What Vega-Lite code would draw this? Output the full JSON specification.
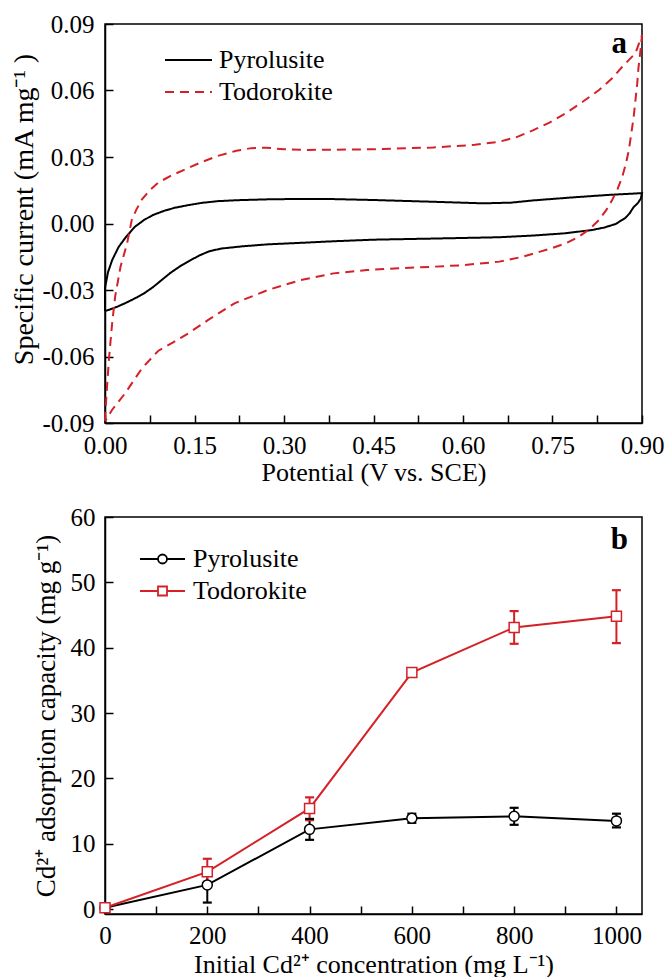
{
  "$schema": "https://vega.github.io/schema/vega-lite/v6.json",
  "background": "white",
  "padding": {"left": 10, "top": 11, "right": 2, "bottom": 1},
  "spacing": 18,
  "config": {
    "font": "Liberation Serif",
    "view": {"stroke": "black", "strokeWidth": 1.5},
    "axis": {
      "labelFont": "Liberation Serif", "titleFont": "Liberation Serif",
      "labelFontSize": 25, "titleFontSize": 26, "labelColor": "black", "titleColor": "black",
      "titleFontWeight": "normal", "domainColor": "black", "domainWidth": 1.5,
      "tickColor": "black", "tickWidth": 1.5, "tickSize": -8, "grid": false,
      "labelOverlap": false, "labelFlush": false
    },
    "legend": {"labelFont": "Liberation Serif", "labelColor": "black"}
  },
  "resolve": {"scale": {"color": "independent", "strokeDash": "independent"}, "legend": {"color": "independent", "strokeDash": "independent"}},
  "vconcat": [
    {
      "width": 537, "height": 399,
      "layer": [
        {
          "data": {"values": [
            {"series":"Pyrolusite","potential":0,"current":-0.0395},
            {"series":"Pyrolusite","potential":0,"current":-0.029},
            {"series":"Pyrolusite","potential":0.005,"current":-0.022},
            {"series":"Pyrolusite","potential":0.012,"current":-0.0165},
            {"series":"Pyrolusite","potential":0.023,"current":-0.0105},
            {"series":"Pyrolusite","potential":0.034,"current":-0.0065},
            {"series":"Pyrolusite","potential":0.05,"current":-0.0015},
            {"series":"Pyrolusite","potential":0.065,"current":0.0015},
            {"series":"Pyrolusite","potential":0.08,"current":0.0038},
            {"series":"Pyrolusite","potential":0.1,"current":0.0058},
            {"series":"Pyrolusite","potential":0.117,"current":0.0071},
            {"series":"Pyrolusite","potential":0.14,"current":0.0083},
            {"series":"Pyrolusite","potential":0.162,"current":0.0093},
            {"series":"Pyrolusite","potential":0.19,"current":0.0101},
            {"series":"Pyrolusite","potential":0.22,"current":0.0105},
            {"series":"Pyrolusite","potential":0.273,"current":0.0109},
            {"series":"Pyrolusite","potential":0.33,"current":0.0111},
            {"series":"Pyrolusite","potential":0.384,"current":0.011},
            {"series":"Pyrolusite","potential":0.45,"current":0.0106},
            {"series":"Pyrolusite","potential":0.55,"current":0.0098},
            {"series":"Pyrolusite","potential":0.633,"current":0.0091},
            {"series":"Pyrolusite","potential":0.68,"current":0.0094},
            {"series":"Pyrolusite","potential":0.717,"current":0.0104},
            {"series":"Pyrolusite","potential":0.78,"current":0.0117},
            {"series":"Pyrolusite","potential":0.844,"current":0.0129},
            {"series":"Pyrolusite","potential":0.893,"current":0.0136},
            {"series":"Pyrolusite","potential":0.9,"current":0.0137},
            {"series":"Pyrolusite","potential":0.898,"current":0.0112},
            {"series":"Pyrolusite","potential":0.893,"current":0.0092},
            {"series":"Pyrolusite","potential":0.886,"current":0.0074},
            {"series":"Pyrolusite","potential":0.879,"current":0.0045},
            {"series":"Pyrolusite","potential":0.872,"current":0.0025},
            {"series":"Pyrolusite","potential":0.856,"current":-0.0002},
            {"series":"Pyrolusite","potential":0.837,"current":-0.0018},
            {"series":"Pyrolusite","potential":0.817,"current":-0.0029},
            {"series":"Pyrolusite","potential":0.772,"current":-0.0044},
            {"series":"Pyrolusite","potential":0.72,"current":-0.0054},
            {"series":"Pyrolusite","potential":0.661,"current":-0.0062},
            {"series":"Pyrolusite","potential":0.55,"current":-0.0068},
            {"series":"Pyrolusite","potential":0.45,"current":-0.0073},
            {"series":"Pyrolusite","potential":0.384,"current":-0.008},
            {"series":"Pyrolusite","potential":0.33,"current":-0.0087},
            {"series":"Pyrolusite","potential":0.273,"current":-0.0094},
            {"series":"Pyrolusite","potential":0.23,"current":-0.0103},
            {"series":"Pyrolusite","potential":0.195,"current":-0.0113},
            {"series":"Pyrolusite","potential":0.175,"current":-0.0125},
            {"series":"Pyrolusite","potential":0.16,"current":-0.0142},
            {"series":"Pyrolusite","potential":0.145,"current":-0.0163},
            {"series":"Pyrolusite","potential":0.128,"current":-0.0189},
            {"series":"Pyrolusite","potential":0.11,"current":-0.0222},
            {"series":"Pyrolusite","potential":0.095,"current":-0.0255},
            {"series":"Pyrolusite","potential":0.08,"current":-0.0288},
            {"series":"Pyrolusite","potential":0.065,"current":-0.0316},
            {"series":"Pyrolusite","potential":0.05,"current":-0.0338},
            {"series":"Pyrolusite","potential":0.035,"current":-0.0358},
            {"series":"Pyrolusite","potential":0.02,"current":-0.0376},
            {"series":"Pyrolusite","potential":0.008,"current":-0.0388},
            {"series":"Pyrolusite","potential":0,"current":-0.0395},
            {"series":"Todorokite","potential":0,"current":-0.089},
            {"series":"Todorokite","potential":0.003,"current":-0.075},
            {"series":"Todorokite","potential":0.007,"current":-0.06},
            {"series":"Todorokite","potential":0.012,"current":-0.045},
            {"series":"Todorokite","potential":0.017,"current":-0.033},
            {"series":"Todorokite","potential":0.026,"current":-0.0195},
            {"series":"Todorokite","potential":0.037,"current":-0.009},
            {"series":"Todorokite","potential":0.045,"current":0.0018},
            {"series":"Todorokite","potential":0.053,"current":0.0065},
            {"series":"Todorokite","potential":0.062,"current":0.0109},
            {"series":"Todorokite","potential":0.075,"current":0.015},
            {"series":"Todorokite","potential":0.089,"current":0.0184},
            {"series":"Todorokite","potential":0.11,"current":0.0215},
            {"series":"Todorokite","potential":0.134,"current":0.0244},
            {"series":"Todorokite","potential":0.16,"current":0.0275},
            {"series":"Todorokite","potential":0.189,"current":0.0305},
            {"series":"Todorokite","potential":0.22,"current":0.0328},
            {"series":"Todorokite","potential":0.245,"current":0.034},
            {"series":"Todorokite","potential":0.27,"current":0.0342},
            {"series":"Todorokite","potential":0.3,"current":0.0335},
            {"series":"Todorokite","potential":0.34,"current":0.0332},
            {"series":"Todorokite","potential":0.384,"current":0.0333},
            {"series":"Todorokite","potential":0.45,"current":0.0335},
            {"series":"Todorokite","potential":0.55,"current":0.0343},
            {"series":"Todorokite","potential":0.62,"current":0.0355},
            {"series":"Todorokite","potential":0.661,"current":0.0369},
            {"series":"Todorokite","potential":0.69,"current":0.039},
            {"series":"Todorokite","potential":0.717,"current":0.042},
            {"series":"Todorokite","potential":0.745,"current":0.0455},
            {"series":"Todorokite","potential":0.772,"current":0.0497},
            {"series":"Todorokite","potential":0.8,"current":0.0548},
            {"series":"Todorokite","potential":0.828,"current":0.0602},
            {"series":"Todorokite","potential":0.85,"current":0.0655},
            {"series":"Todorokite","potential":0.867,"current":0.0707},
            {"series":"Todorokite","potential":0.889,"current":0.0768},
            {"series":"Todorokite","potential":0.9,"current":0.085},
            {"series":"Todorokite","potential":0.897,"current":0.077},
            {"series":"Todorokite","potential":0.894,"current":0.07},
            {"series":"Todorokite","potential":0.892,"current":0.0633},
            {"series":"Todorokite","potential":0.889,"current":0.0555},
            {"series":"Todorokite","potential":0.886,"current":0.048},
            {"series":"Todorokite","potential":0.882,"current":0.0405},
            {"series":"Todorokite","potential":0.878,"current":0.0331},
            {"series":"Todorokite","potential":0.873,"current":0.027},
            {"series":"Todorokite","potential":0.867,"current":0.0211},
            {"series":"Todorokite","potential":0.859,"current":0.0155},
            {"series":"Todorokite","potential":0.85,"current":0.0106},
            {"series":"Todorokite","potential":0.84,"current":0.006},
            {"series":"Todorokite","potential":0.828,"current":0.0016},
            {"series":"Todorokite","potential":0.812,"current":-0.0025},
            {"series":"Todorokite","potential":0.794,"current":-0.006},
            {"series":"Todorokite","potential":0.772,"current":-0.009},
            {"series":"Todorokite","potential":0.75,"current":-0.011},
            {"series":"Todorokite","potential":0.728,"current":-0.0128},
            {"series":"Todorokite","potential":0.7,"current":-0.015},
            {"series":"Todorokite","potential":0.661,"current":-0.0172},
            {"series":"Todorokite","potential":0.6,"current":-0.0188},
            {"series":"Todorokite","potential":0.55,"current":-0.0195},
            {"series":"Todorokite","potential":0.5,"current":-0.0201},
            {"series":"Todorokite","potential":0.439,"current":-0.021},
            {"series":"Todorokite","potential":0.383,"current":-0.0225},
            {"series":"Todorokite","potential":0.328,"current":-0.0255},
            {"series":"Todorokite","potential":0.273,"current":-0.03},
            {"series":"Todorokite","potential":0.217,"current":-0.036},
            {"series":"Todorokite","potential":0.173,"current":-0.0435},
            {"series":"Todorokite","potential":0.14,"current":-0.0495},
            {"series":"Todorokite","potential":0.115,"current":-0.0535},
            {"series":"Todorokite","potential":0.089,"current":-0.0575},
            {"series":"Todorokite","potential":0.062,"current":-0.0653},
            {"series":"Todorokite","potential":0.034,"current":-0.0765},
            {"series":"Todorokite","potential":0.012,"current":-0.084},
            {"series":"Todorokite","potential":0.002,"current":-0.0885},
            {"series":"Todorokite","potential":0,"current":-0.089}
          ]},
          "mark": {"type": "line", "strokeWidth": 2},
          "encoding": {
            "x": {"field": "potential", "type": "quantitative",
              "scale": {"domain": [0, 0.9], "nice": false, "zero": false},
              "axis": {"title": "Potential (V vs. SCE)",
                "values": [0, 0.075, 0.15, 0.225, 0.3, 0.375, 0.45, 0.525, 0.6, 0.675, 0.75, 0.825, 0.9],
                "labelExpr": "abs(datum.value/0.15 - round(datum.value/0.15)) < 0.01 ? format(datum.value, '.2f') : ''",
                "labelPadding": 18, "titlePadding": 1,
                "encode": {"ticks": {"update": {"y2": {"signal": "abs(datum.value/0.15 - round(datum.value/0.15)) < 0.01 ? -8 : -4"}}}}}},
            "y": {"field": "current", "type": "quantitative",
              "scale": {"domain": [-0.09, 0.09], "nice": false, "zero": false},
              "axis": {"title": "Specific current  (mA mg⁻¹ )",
                "titleFontSize": 28, "titleY": 185,
                "values": [-0.09, -0.075, -0.06, -0.045, -0.03, -0.015, 0, 0.015, 0.03, 0.045, 0.06, 0.075, 0.09],
                "labelExpr": "abs(datum.value/0.03 - round(datum.value/0.03)) < 0.01 ? (datum.value < -0.0001 ? '-' : '') + format(abs(datum.value), '.2f') : ''",
                "labelPadding": 19, "titlePadding": 3,
                "encode": {"ticks": {"update": {"x2": {"signal": "abs(datum.value/0.03 - round(datum.value/0.03)) < 0.01 ? 8 : 4"}}}}}},
            "color": {"field": "series", "type": "nominal",
              "scale": {"domain": ["Pyrolusite", "Todorokite"], "range": ["#000000", "#d42027"]},
              "legend": {"orient": "none", "legendX": 59, "legendY": 21, "title": null, "symbolType": "stroke", "symbolSize": 2209, "symbolStrokeWidth": 2, "labelFontSize": 26, "labelOffset": 6, "clipHeight": 30, "rowPadding": 2, "padding": 0}},
            "strokeDash": {"field": "series", "type": "nominal",
              "scale": {"domain": ["Pyrolusite", "Todorokite"], "range": [[1, 0], [9, 6]]},
              "legend": {"orient": "none", "legendX": 59, "legendY": 21, "title": null, "symbolType": "stroke", "symbolSize": 2209, "symbolStrokeWidth": 2, "labelFontSize": 26, "labelOffset": 6, "clipHeight": 30, "rowPadding": 2, "padding": 0}},
            "order": {"value": null}
          }
        },
        {
          "data": {"values": [{}]},
          "mark": {"type": "text", "text": "a", "font": "Liberation Serif", "fontSize": 31, "fontWeight": "bold", "align": "center", "baseline": "alphabetic", "color": "black"},
          "encoding": {"x": {"datum": 0.862, "type": "quantitative"}, "y": {"datum": 0.077, "type": "quantitative"}}
        }
      ]
    },
    {
      "width": 537, "height": 397,
      "layer": [
        {
          "data": {"values": [
            {"series":"Pyrolusite","conc":0,"q":0.2,"lo":0.2,"hi":0.2},
            {"series":"Pyrolusite","conc":200,"q":3.7,"lo":1.0,"hi":6.3},
            {"series":"Pyrolusite","conc":400,"q":12.2,"lo":10.6,"hi":13.8},
            {"series":"Pyrolusite","conc":600,"q":13.9,"lo":13.2,"hi":14.6},
            {"series":"Pyrolusite","conc":800,"q":14.2,"lo":12.9,"hi":15.5},
            {"series":"Pyrolusite","conc":1000,"q":13.5,"lo":12.5,"hi":14.6},
            {"series":"Todorokite","conc":0,"q":0.2,"lo":0.2,"hi":0.2},
            {"series":"Todorokite","conc":200,"q":5.7,"lo":3.9,"hi":7.7},
            {"series":"Todorokite","conc":400,"q":15.4,"lo":13.6,"hi":17.1},
            {"series":"Todorokite","conc":600,"q":36.2,"lo":35.6,"hi":36.8},
            {"series":"Todorokite","conc":800,"q":43.1,"lo":40.6,"hi":45.6},
            {"series":"Todorokite","conc":1000,"q":44.8,"lo":40.7,"hi":48.8}
          ]},
          "encoding": {
            "x": {"field": "conc", "type": "quantitative",
              "scale": {"domain": [0, 1050], "nice": false, "zero": false},
              "axis": {"title": "Initial Cd²⁺ concentration (mg L⁻¹)",
                "values": [0, 100, 200, 300, 400, 500, 600, 700, 800, 900, 1000],
                "labelExpr": "datum.value % 200 === 0 ? format(datum.value, 'd') : ''",
                "labelPadding": 17, "titlePadding": 3,
                "encode": {"ticks": {"update": {"y2": {"signal": "datum.value % 200 === 0 ? -8 : -4"}}}}}},
            "y": {"field": "q", "type": "quantitative",
              "scale": {"domain": [-0.75, 60], "nice": false, "zero": false},
              "axis": {"title": "Cd²⁺ adsorption capacity (mg g⁻¹)",
                "titleFontSize": 27,
                "values": [0, 5, 10, 15, 20, 25, 30, 35, 40, 45, 50, 55, 60],
                "labelExpr": "datum.value % 10 === 0 ? format(datum.value, 'd') : ''",
                "labelPadding": 18, "titlePadding": 10,
                "encode": {"ticks": {"update": {"x2": {"signal": "datum.value % 10 === 0 ? 8 : 4"}}}}}},
            "color": {"field": "series", "type": "nominal",
              "scale": {"domain": ["Pyrolusite", "Todorokite"], "range": ["#000000", "#d42027"]},
              "legend": {"orient": "none", "legendX": 34, "legendY": 27, "title": null, "symbolType": "circle", "symbolSize": 2025, "symbolStrokeWidth": 1.8, "symbolFillColor": "white", "labelFontSize": 26, "labelOffset": 7, "clipHeight": 30, "rowPadding": 2, "padding": 0,
                "encode": {"symbols": {"update": {
                  "shape": {"signal": "datum.value === 'Pyrolusite' ? 'M-1,0L-0.2,0M0.2,0L1,0M-0.2,0A0.2,0.2,0,1,0,0.2,0A0.2,0.2,0,1,0,-0.2,0' : 'M-1,0L-0.2,0M0.2,0L1,0M-0.2,-0.2L0.2,-0.2L0.2,0.2L-0.2,0.2Z'"},
                  "fill": {"value": "white"}, "fillOpacity": {"value": 1}, "opacity": {"value": 1}}}}}}
          },
          "layer": [
            {
              "transform": [{"filter": "datum.hi > datum.lo"}],
              "mark": {"type": "rule", "strokeWidth": 2},
              "encoding": {"y": {"field": "lo", "type": "quantitative"}, "y2": {"field": "hi"}}
            },
            {
              "transform": [{"filter": "datum.hi > datum.lo"}],
              "mark": {"type": "point", "shape": "stroke", "filled": false, "size": 81, "strokeWidth": 2.2, "opacity": 1},
              "encoding": {"y": {"field": "lo", "type": "quantitative"}}
            },
            {
              "transform": [{"filter": "datum.hi > datum.lo"}],
              "mark": {"type": "point", "shape": "stroke", "filled": false, "size": 81, "strokeWidth": 2.2, "opacity": 1},
              "encoding": {"y": {"field": "hi", "type": "quantitative"}}
            },
            {
              "mark": {"type": "line", "strokeWidth": 2}
            },
            {
              "mark": {"type": "point", "filled": false, "fill": "white", "size": 100, "strokeWidth": 1.5, "opacity": 1},
              "encoding": {"shape": {"field": "series", "type": "nominal", "scale": {"domain": ["Pyrolusite", "Todorokite"], "range": ["circle", "square"]}, "legend": null}}
            }
          ]
        },
        {
          "data": {"values": [{}]},
          "mark": {"type": "text", "text": "b", "font": "Liberation Serif", "fontSize": 31, "fontWeight": "bold", "align": "center", "baseline": "alphabetic", "color": "black"},
          "encoding": {"x": {"datum": 1006, "type": "quantitative"}, "y": {"datum": 55.1, "type": "quantitative"}}
        }
      ]
    }
  ]
}
